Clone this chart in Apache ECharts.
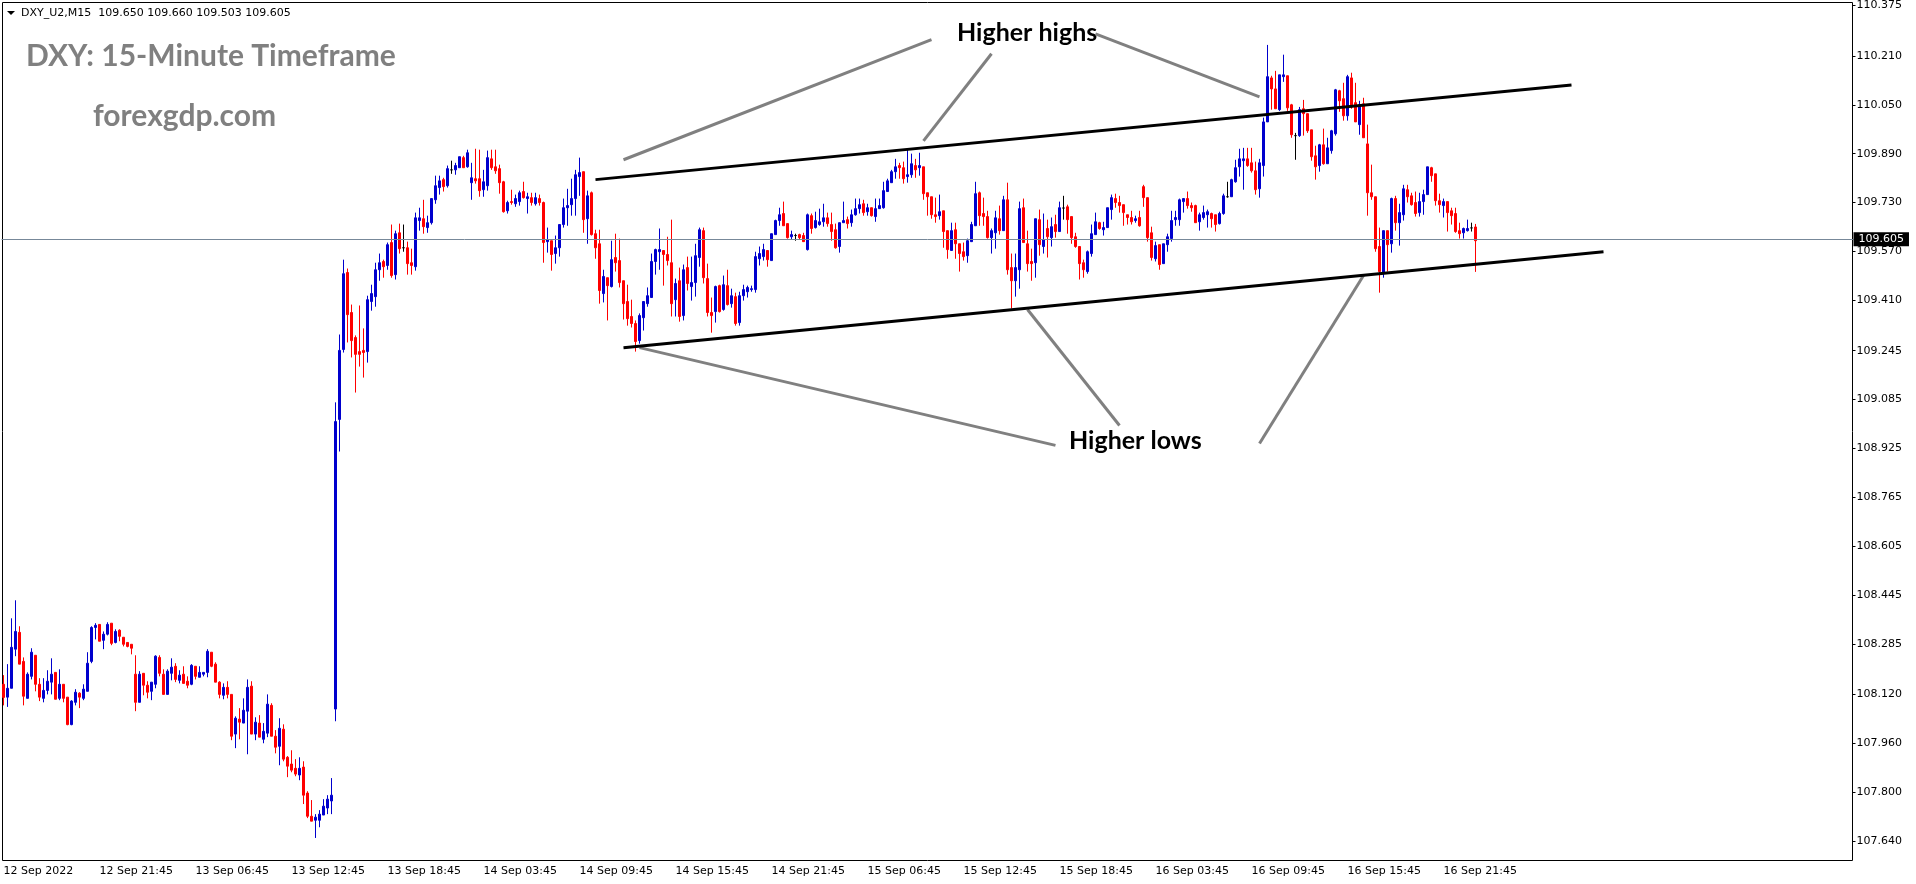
<!DOCTYPE html>
<html>
<head>
<meta charset="utf-8">
<title>DXY 15-Minute Timeframe</title>
<script src="https://cdn.jsdelivr.net/npm/echarts@6/dist/echarts.min.js"></script>
<style>
  html, body { margin: 0; padding: 0; background: #fff; }
  #chart { width: 1916px; height: 884px; }
</style>
</head>
<body>
<div id="chart"></div>
<script>
// one row per M15 bar: [open, close, low, high]
var barsBlock1 = [
  [108.153,108.110,108.084,108.183],[108.111,108.140,108.079,108.219],[108.140,108.274,108.140,108.369],[108.268,108.326,108.245,108.428],
  [108.323,108.219,108.219,108.343],[108.228,108.114,108.084,108.241],[108.107,108.186,108.107,108.192],[108.179,108.258,108.169,108.271],
  [108.248,108.153,108.130,108.248],[108.153,108.111,108.098,108.173],[108.107,108.133,108.094,108.173],[108.133,108.163,108.120,108.199],
  [108.160,108.186,108.120,108.238],[108.192,108.104,108.104,108.192],[108.107,108.153,108.101,108.202],[108.153,108.107,108.094,108.153],
  [108.111,108.021,108.019,108.111],[108.021,108.098,108.019,108.101],[108.094,108.127,108.084,108.137],[108.124,108.111,108.075,108.127],
  [108.107,108.137,108.101,108.153],[108.130,108.222,108.130,108.258],[108.228,108.339,108.222,108.343],[108.339,108.346,108.300,108.353],
  [108.349,108.294,108.294,108.349],[108.297,108.317,108.268,108.326],[108.317,108.349,108.313,108.356],[108.353,108.287,108.281,108.353],
  [108.290,108.326,108.287,108.333],[108.330,108.310,108.294,108.333],[108.307,108.284,108.277,108.307],[108.290,108.277,108.274,108.290],
  [108.284,108.271,108.251,108.284],[108.186,108.094,108.065,108.248],[108.094,108.186,108.094,108.196],[108.189,108.150,108.117,108.189],
  [108.150,108.127,108.107,108.163],[108.130,108.160,108.101,108.160],[108.153,108.245,108.140,108.248],[108.241,108.189,108.179,108.248],
  [108.186,108.120,108.120,108.202],[108.120,108.196,108.120,108.202],[108.189,108.209,108.166,108.238],[108.212,108.169,108.160,108.222],
  [108.166,108.183,108.156,108.199],[108.186,108.156,108.156,108.212],[108.163,108.150,108.140,108.179],[108.153,108.215,108.150,108.219]
];
var barsBlock2 = [
  [108.212,108.179,108.169,108.212],[108.176,108.192,108.176,108.212],[108.186,108.192,108.179,108.192],[108.192,108.261,108.176,108.268],
  [108.258,108.212,108.209,108.258],[108.219,108.160,108.160,108.225],[108.160,108.120,108.107,108.163],[108.117,108.143,108.104,108.156],
  [108.143,108.120,108.107,108.163],[108.120,107.983,107.970,108.120],[107.990,108.042,107.944,108.048],[108.039,108.029,107.973,108.075],
  [108.026,108.068,108.026,108.107],[108.065,108.143,107.924,108.169],[108.147,107.990,107.990,108.163],[107.990,108.029,107.970,108.045],
  [108.026,107.980,107.980,108.052],[107.973,107.999,107.960,108.026],[107.993,108.088,107.980,108.120],[108.084,107.983,107.983,108.091],
  [107.983,107.947,107.927,108.003],[107.950,108.009,107.888,108.042],[108.006,107.908,107.901,108.022],[107.914,107.885,107.849,107.918],
  [107.892,107.872,107.865,107.937],[107.878,107.859,107.852,107.908],[107.856,107.878,107.839,107.914],[107.882,107.790,107.761,107.901],
  [107.797,107.721,107.715,107.803],[107.721,107.705,107.705,107.774],[107.708,107.718,107.650,107.728],[107.708,107.728,107.685,107.741],
  [107.725,107.754,107.725,107.777],[107.748,107.777,107.728,107.790],[107.771,107.790,107.728,107.846],[108.072,109.013,108.032,109.076],
  [109.020,109.246,108.915,109.298],[109.249,109.497,109.239,109.543],[109.501,109.363,109.272,109.514],[109.370,109.278,109.223,109.396],
  [109.288,109.233,109.108,109.295],[109.242,109.233,109.193,109.393],[109.246,109.239,109.157,109.318],[109.242,109.412,109.206,109.425],
  [109.406,109.432,109.376,109.461],[109.422,109.510,109.389,109.533],[109.510,109.533,109.474,109.563],[109.537,109.520,109.484,109.543],
  [109.524,109.592,109.510,109.599],[109.599,109.491,109.484,109.658],[109.494,109.628,109.478,109.638],[109.631,109.579,109.563,109.661],
  [109.582,109.582,109.569,109.658],[109.582,109.530,109.494,109.602],[109.533,109.524,109.494,109.579],[109.520,109.680,109.507,109.697],
  [109.671,109.680,109.638,109.713],[109.677,109.651,109.628,109.739],[109.648,109.664,109.631,109.687],[109.664,109.743,109.658,109.743],
  [109.739,109.785,109.726,109.818],[109.779,109.801,109.756,109.818],[109.805,109.782,109.766,109.811],[109.785,109.841,109.779,109.851],
  [109.837,109.837,109.824,109.867],[109.837,109.851,109.821,109.860],[109.844,109.880,109.844,109.880],[109.877,109.844,109.844,109.883],
  [109.847,109.893,109.844,109.903],[109.795,109.811,109.739,109.860],[109.808,109.801,109.792,109.906],[109.808,109.769,109.749,109.903]
];
var barsBlock3 = [
  [109.772,109.798,109.749,109.837],[109.785,109.877,109.769,109.900],[109.873,109.844,109.837,109.903],[109.847,109.834,109.824,109.903],
  [109.841,109.795,109.759,109.854],[109.798,109.700,109.697,109.801],[109.703,109.730,109.694,109.736],[109.733,109.730,109.723,109.772],
  [109.726,109.743,109.716,109.756],[109.733,109.762,109.720,109.769],[109.766,109.746,109.743,109.798],[109.743,109.749,109.694,109.762],
  [109.746,109.730,109.720,109.762],[109.726,109.746,109.720,109.762],[109.743,109.730,109.720,109.756],[109.730,109.599,109.533,109.733],
  [109.602,109.609,109.566,109.648],[109.605,109.560,109.507,109.605],[109.563,109.582,109.530,109.622],[109.582,109.658,109.553,109.658],
  [109.658,109.713,109.648,109.743],[109.713,109.720,109.654,109.775],[109.723,109.743,109.687,109.808],[109.743,109.821,109.687,109.837],
  [109.815,109.828,109.752,109.877],[109.831,109.674,109.631,109.831],[109.677,109.752,109.595,109.769],[109.762,109.625,109.622,109.766],
  [109.628,109.582,109.546,109.641],[109.595,109.442,109.399,109.641],[109.432,109.488,109.403,109.510],[109.484,109.458,109.344,109.484],
  [109.455,109.543,109.452,109.605],[109.550,109.533,109.504,109.628],[109.540,109.468,109.452,109.612],[109.474,109.399,109.347,109.474],
  [109.406,109.350,109.327,109.461],[109.357,109.334,109.321,109.412],[109.334,109.275,109.242,109.344],[109.278,109.360,109.268,109.367],
  [109.353,109.406,109.311,109.406],[109.399,109.425,109.389,109.452],[109.419,109.537,109.419,109.563],[109.537,109.576,109.494,109.579],
  [109.569,109.576,109.510,109.645],[109.573,109.560,109.458,109.573],[109.560,109.540,109.524,109.618],[109.533,109.399,109.357,109.674],
  [109.412,109.465,109.357,109.481],[109.474,109.357,109.340,109.517],[109.360,109.510,109.344,109.527],[109.517,109.465,109.442,109.553],
  [109.455,109.468,109.409,109.553],[109.468,109.556,109.422,109.595],[109.550,109.641,109.520,109.648],[109.638,109.484,109.465,109.648],
  [109.481,109.370,109.357,109.530],[109.370,109.360,109.304,109.419],[109.373,109.455,109.337,109.458],[109.458,109.373,109.370,109.461],
  [109.380,109.461,109.376,109.491],[109.458,109.396,109.393,109.510],[109.399,109.425,109.386,109.448],[109.422,109.334,109.327,109.435],
  [109.337,109.425,109.327,109.438],[109.425,109.445,109.409,109.461],[109.438,109.452,109.419,109.458],[109.445,109.448,109.438,109.458],
  [109.445,109.553,109.435,109.569],[109.546,109.563,109.524,109.586],[109.553,109.576,109.540,109.595],[109.573,109.543,109.520,109.573],
  [109.540,109.628,109.540,109.628],[109.625,109.671,109.625,109.674],[109.671,109.690,109.654,109.713],[109.694,109.654,109.654,109.733],
  [109.661,109.615,109.612,109.661],[109.618,109.625,109.609,109.638],[109.622,109.622,109.605,109.628],[109.625,109.615,109.609,109.628],
  [109.622,109.602,109.602,109.631],[109.576,109.690,109.573,109.694],[109.687,109.645,109.628,109.694],[109.648,109.671,109.645,109.700],
  [109.658,109.667,109.654,109.710],[109.667,109.680,109.651,109.726],[109.680,109.661,109.651,109.697],[109.658,109.635,109.605,109.697],
  [109.641,109.582,109.579,109.661],[109.586,109.664,109.566,109.664],[109.664,109.671,109.664,109.733],[109.674,109.661,109.645,109.684],
  [109.664,109.690,109.651,109.707],[109.690,109.710,109.687,109.743],[109.710,109.723,109.694,109.743],[109.726,109.697,109.687,109.739]
];
var barsBlock4 = [
  [109.700,109.713,109.687,109.726],[109.713,109.687,109.684,109.713],[109.684,109.710,109.667,109.743],[109.710,109.720,109.710,109.743],
  [109.713,109.769,109.710,109.798],[109.766,109.801,109.766,109.808],[109.795,109.831,109.795,109.837],[109.831,109.847,109.808,109.873],
  [109.851,109.844,109.808,109.860],[109.844,109.808,109.792,109.864],[109.815,109.821,109.795,109.903],[109.821,109.857,109.811,109.890],
  [109.851,109.837,109.811,109.873],[109.844,109.851,109.818,109.893],[109.847,109.759,109.739,109.847],[109.762,109.749,109.687,109.762],
  [109.749,109.690,109.677,109.749],[109.690,109.684,109.664,109.746],[109.687,109.700,109.674,109.756],[109.703,109.635,109.582,109.703],
  [109.638,109.576,109.546,109.638],[109.573,109.638,109.573,109.664],[109.641,109.595,109.546,109.664],[109.595,109.563,109.504,109.595],
  [109.569,109.553,109.540,109.599],[109.556,109.605,109.533,109.612],[109.602,109.658,109.602,109.667],[109.654,109.759,109.654,109.798],
  [109.762,109.687,109.654,109.766],[109.694,109.684,109.654,109.746],[109.684,109.615,109.612,109.703],[109.615,109.638,109.563,109.645],
  [109.631,109.680,109.579,109.703],[109.677,109.638,109.625,109.720],[109.638,109.739,109.638,109.752],[109.739,109.510,109.494,109.795],
  [109.517,109.474,109.383,109.563],[109.474,109.517,109.422,109.563],[109.510,109.710,109.448,109.733],[109.713,109.599,109.599,109.743],
  [109.595,109.530,109.504,109.638],[109.537,109.530,109.474,109.579],[109.533,109.677,109.484,109.677],[109.674,109.592,109.556,109.707],
  [109.586,109.609,109.563,109.694],[109.645,109.618,109.550,109.674],[109.615,109.651,109.586,109.681],[109.658,109.635,109.615,109.690],
  [109.635,109.713,109.635,109.733],[109.712,109.712,109.674,109.752],[109.716,109.674,109.628,109.723],[109.684,109.615,109.595,109.684],
  [109.618,109.586,109.582,109.631],[109.586,109.530,109.478,109.586],[109.533,109.510,109.484,109.543],[109.504,109.569,109.497,109.573],
  [109.563,109.628,109.553,109.658],[109.625,109.667,109.625,109.697],[109.664,109.645,109.641,109.667],[109.641,109.648,109.622,109.667],
  [109.648,109.713,109.648,109.713],[109.707,109.746,109.674,109.756],[109.743,109.730,109.713,109.759],[109.730,109.720,109.697,109.752],
  [109.723,109.697,109.654,109.723],[109.690,109.681,109.658,109.690],[109.681,109.667,109.658,109.703],[109.671,109.677,109.664,109.687],
  [109.681,109.654,109.651,109.703],[109.782,109.746,109.716,109.788],[109.746,109.615,109.602,109.746],[109.631,109.550,109.540,109.651]
];
var barsBlock5 = [
  [109.546,109.589,109.537,109.602],[109.592,109.527,109.510,109.592],[109.530,109.595,109.530,109.595],[109.592,109.618,109.569,109.628],
  [109.612,109.671,109.602,109.703],[109.674,109.681,109.654,109.703],[109.674,109.739,109.654,109.743],[109.733,109.743,109.697,109.743],
  [109.743,109.720,109.710,109.766],[109.720,109.713,109.700,109.730],[109.720,109.664,109.664,109.723],[109.667,109.690,109.638,109.697],
  [109.681,109.697,109.674,109.720],[109.690,109.700,109.648,109.707],[109.694,109.677,109.648,109.697],[109.690,109.658,109.635,109.690],
  [109.661,109.694,109.658,109.700],[109.694,109.752,109.690,109.759],[109.749,109.749,109.746,109.798],[109.749,109.805,109.749,109.808],
  [109.798,109.844,109.795,109.870],[109.847,109.873,109.815,109.906],[109.867,109.873,109.772,109.909],[109.873,109.851,109.847,109.909],
  [109.860,109.834,109.828,109.909],[109.834,109.772,109.756,109.864],[109.775,109.860,109.746,109.873],[109.851,109.994,109.815,110.008],
  [109.994,110.142,109.994,110.246],[110.138,110.102,110.034,110.145],[110.102,110.037,110.037,110.161],[110.034,110.148,110.030,110.148],
  [110.142,110.148,110.125,110.214],[110.145,110.040,110.030,110.145],[110.050,109.952,109.942,110.053],[109.949,109.949,109.870,109.958],
  [109.949,110.034,109.945,110.043],[110.037,110.021,109.949,110.066],[110.021,109.965,109.958,110.021],[109.968,109.880,109.867,109.968],
  [109.883,109.847,109.805,109.916],[109.851,109.919,109.831,109.922],[109.919,109.857,109.854,109.972],[109.857,109.909,109.857,109.942],
  [109.900,109.965,109.890,109.968],[109.955,110.099,109.949,110.102],[110.096,110.063,110.027,110.099],[110.070,110.014,109.998,110.122],
  [110.014,110.142,109.998,110.148],[110.138,110.043,110.037,110.155],[110.057,109.994,109.994,110.122],[109.985,110.050,109.952,110.063],
  [110.053,109.942,109.942,110.073],[109.922,109.762,109.687,109.985],[109.762,109.749,109.739,109.854],[109.749,109.579,109.569,109.749],
  [109.586,109.504,109.435,109.648],[109.501,109.638,109.484,109.638],[109.638,109.592,109.504,109.638],[109.595,109.743,109.566,109.746],
  [109.743,109.664,109.638,109.752],[109.664,109.697,109.589,109.726],[109.690,109.775,109.671,109.788],[109.772,109.749,109.730,109.788],
  [109.752,109.723,109.720,109.762],[109.730,109.694,109.684,109.766],[109.697,109.733,109.684,109.762],[109.733,109.756,109.690,109.772],
  [109.756,109.847,109.756,109.847],[109.844,109.818,109.798,109.847],[109.824,109.736,109.720,109.824],[109.736,109.723,109.697,109.759],
  [109.720,109.733,109.681,109.743],[109.733,109.697,109.635,109.733],[109.703,109.687,109.658,109.713],[109.694,109.635,109.631,109.713],
  [109.638,109.628,109.612,109.664],[109.631,109.645,109.612,109.648],[109.638,109.645,109.635,109.674],[109.647,109.647,109.635,109.664],
  [109.650,109.605,109.503,109.660]
];

// one label every 24 bars
var timeLabels = ['12 Sep 2022', '12 Sep 21:45', '13 Sep 06:45', '13 Sep 12:45', '13 Sep 18:45', '14 Sep 03:45',
  '14 Sep 09:45', '14 Sep 15:45', '14 Sep 21:45', '15 Sep 06:45', '15 Sep 12:45', '15 Sep 18:45',
  '16 Sep 03:45', '16 Sep 09:45', '16 Sep 15:45', '16 Sep 21:45'];
var priceTicks = [107.640, 107.800, 107.960, 108.120, 108.285, 108.445, 108.605, 108.765, 108.925,
  109.085, 109.245, 109.410, 109.570, 109.730, 109.890, 110.050, 110.210, 110.375];
var lastPrice = 109.605;

// drawn lines, [bar index, price] at both ends
var channelLines = [
  [[148, 109.805], [392, 110.115]],
  [[155, 109.255], [400, 109.569]]
];
var pointerLines = [
  [[155, 109.870], [232, 110.263]],
  [[230, 109.932], [247, 110.217]],
  [[273, 110.282], [314, 110.076]],
  [[159, 109.255], [263, 108.935]],
  [[256, 109.380], [279, 109.000]],
  [[314, 108.941], [340, 109.491]]
];

var BAR_SLOTS = 463;
var bars = barsBlock1.concat(barsBlock2, barsBlock3, barsBlock4, barsBlock5);

var categories = [];
for (var i = 0; i < BAR_SLOTS; i++) {
  categories.push(i % 24 === 0 && timeLabels[i / 24] ? timeLabels[i / 24] : '');
}

function lineData(lines, color, width) {
  return lines.map(function (l) {
    return [
      { coord: l[0], lineStyle: { color: color, width: width, type: 'solid' }, label: { show: false } },
      { coord: l[1] }
    ];
  });
}

var myChart = echarts.init(document.getElementById('chart'));

var labelFont = 'DejaVu Sans';
var noteFont = 'Lato';

var option = {
  animation: false,
  backgroundColor: '#fff',
  grid: { left: 1.5, top: 2.5, width: 1852, height: 858, show: false },
  xAxis: {
    type: 'category',
    data: categories,
    boundaryGap: true,
    axisLine: { show: false },
    axisTick: {
      alignWithLabel: true,
      length: 3,
      lineStyle: { color: '#000' },
      interval: function (index, name) { return name !== ''; }
    },
    axisLabel: {
      color: '#000',
      fontFamily: labelFont,
      fontSize: 11,
      align: 'left',
      margin: 5,
      interval: function (index, name) { return name !== ''; }
    },
    splitLine: { show: false }
  },
  yAxis: {
    type: 'value',
    position: 'right',
    offset: -1,
    min: 107.5762,
    max: 110.382,
    axisLine: { show: false },
    axisTick: { show: true, length: 3, lineStyle: { color: '#000' }, customValues: priceTicks },
    axisLabel: {
      color: '#000',
      fontFamily: labelFont,
      fontSize: 11,
      margin: 4,
      customValues: priceTicks,
      formatter: function (v) { return v.toFixed(3); }
    },
    splitLine: { show: false }
  },
  series: [{
    type: 'candlestick',
    data: bars,
    barWidth: 3,
    itemStyle: {
      color: '#0000cd',
      color0: '#ff0000',
      borderColor: '#0000cd',
      borderColor0: '#ff0000',
      borderColorDoji: '#000',
      borderWidth: 1
    },
    markLine: {
      silent: true,
      symbol: 'none',
      animation: false,
      data: [{
        yAxis: lastPrice,
        lineStyle: { color: '#778899', width: 1, type: 'solid' },
        label: {
          show: true,
          position: 'end',
          distance: 0,
          formatter: lastPrice.toFixed(3),
          color: '#fff',
          backgroundColor: '#000',
          fontFamily: labelFont,
          fontSize: 11,
          padding: [2, 5, 1, 5]
        }
      }].concat(lineData(pointerLines, '#808080', 3), lineData(channelLines, '#000', 3))
    }
  }],
  graphic: [
    { type: 'rect', silent: true, shape: { x: 2.5, y: 2.5, width: 1850, height: 858 }, style: { fill: null, stroke: '#000', lineWidth: 1 } },
    { type: 'polygon', silent: true, shape: { points: [[7, 11], [15, 11], [11, 15]] }, style: { fill: '#000' } },
    { type: 'text', silent: true, x: 21, y: 13, style: { text: 'DXY_U2,M15  109.650 109.660 109.503 109.605', font: '11px "DejaVu Sans"', fill: '#000', verticalAlign: 'middle' } },
    { type: 'text', silent: true, x: 26, y: 56, style: { text: 'DXY: 15-Minute Timeframe', font: 'bold 30px ' + noteFont, fill: '#808080', verticalAlign: 'middle' } },
    { type: 'text', silent: true, x: 93, y: 116, style: { text: 'forexgdp.com', font: 'bold 30px ' + noteFont, fill: '#808080', verticalAlign: 'middle' } },
    { type: 'text', silent: true, x: 957, y: 33, style: { text: 'Higher highs', font: 'bold 25px ' + noteFont, fill: '#000', verticalAlign: 'middle' } },
    { type: 'text', silent: true, x: 1069, y: 441, style: { text: 'Higher lows', font: 'bold 25px ' + noteFont, fill: '#000', verticalAlign: 'middle' } }
  ]
};

myChart.setOption(option);
</script>
</body>
</html>
